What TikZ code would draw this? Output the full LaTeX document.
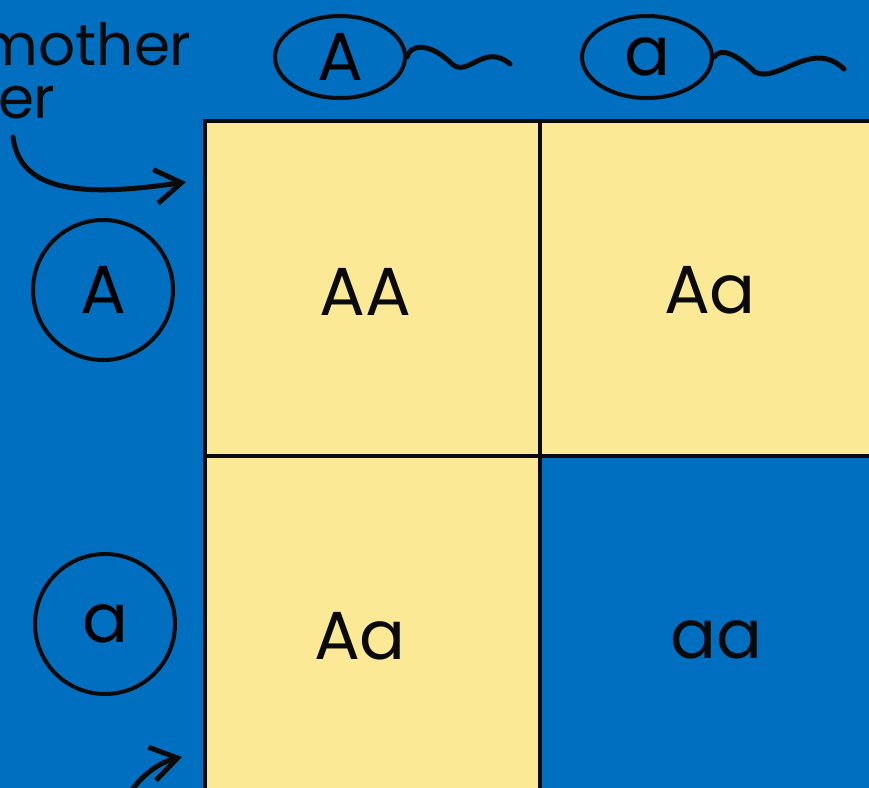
\documentclass[tikz,border=0pt]{standalone}
\usepackage{fontspec}
\setmainfont{Poppins}
\usetikzlibrary{arrows.meta,shapes.geometric}
\definecolor{pqblue}{HTML}{006FC0}
\definecolor{pqyellow}{HTML}{FCE995}
\definecolor{pqink}{HTML}{0A0A0A}

\begin{document}
\begin{tikzpicture}[>={Straight Barb[length=13pt,width=17pt]},x=0.5pt,y=-0.5pt,
    cell/.style={draw=pqink,line width=2pt,minimum size=167.5pt,inner sep=0pt},
    geno/.style={pqink,inner sep=0pt,font=\fontsize{34}{34}\selectfont},
    gamete/.style={draw=pqink,line width=2pt,inner sep=0pt,
                   font=\fontsize{34}{34}\selectfont},
    tail/.style={pqink,line width=2.5pt,line cap=round},
    hand/.style={pqink,line width=2.5pt,line cap=round,->},
    note/.style={pqink,anchor=base east,inner sep=0pt,
                 font=\fontsize{29}{29}\selectfont}]

  \def\c{335}   % cell side
  \def\gx{205}  % grid left
  \def\gy{121}  % grid top

  % ---- page and background ----
  \useasboundingbox (0,0) rectangle (869,788);
  \clip (0,0) rectangle (869,788);
  \fill[pqblue] (0,0) rectangle (869,788);

  % ---- punnett cells ----
  \node[cell,fill=pqyellow] (cellAA) at (\gx+0.5*\c,\gy+0.5*\c) {};
  \node[cell,fill=pqyellow] (cellAa1) at (\gx+1.5*\c,\gy+0.5*\c) {};
  \node[cell,fill=pqyellow] (cellAa2) at (\gx+0.5*\c,\gy+1.5*\c) {};
  \node[cell,fill=pqblue] (cellaa) at (\gx+1.5*\c,\gy+1.5*\c) {};

  % ---- genotypes ----
  \node[geno] (AA) at (365,292) {AA};
  \node[geno] (Aa1) at (710,290) {Aa};
  \node[geno] (Aa2) at (360,636) {Aa};
  \node[geno] (aa) at (716,640) {aa};

  % ---- gametes on top (sperm) ----
  \node[gamete,ellipse,minimum width=65pt,minimum height=41pt] (topA) at (340,57) {A};
  \node[gamete,ellipse,minimum width=65pt,minimum height=41pt] (topa) at (647,57) {a};
  \draw[tail] (topA.east) .. controls (410,44) and (430,42) .. (452,64)
              .. controls (468,78) and (484,42) .. (510,64);
  \draw[tail] (topa.east) .. controls (722,46) and (738,56) .. (755,72)
              .. controls (778,84) and (812,38) .. (844,69);

  % ---- gametes on the left (eggs) ----
  \node[gamete,circle,minimum size=70pt] (leftA) at (103,290) {A};
  \node[gamete,circle,minimum size=70pt] (lefta) at (105,624) {a};

  % ---- label from mother ----
  \node[note] (mother) at (192,65) {mother};
  \node[note] (er) at (56,118) {er};

  % ---- hand drawn arrows ----
  \coordinate (mstart) at (13,137);
  \coordinate (mtip) at (186,182);
  \draw[hand] (mstart) .. controls (20,195) and (90,196) .. (mtip);
  \coordinate (fstart) at (125,800);
  \coordinate (ftip) at (182,757);
  \draw[hand] (fstart) .. controls (140,775) and (160,762) .. (ftip);

\end{tikzpicture}
\end{document}
